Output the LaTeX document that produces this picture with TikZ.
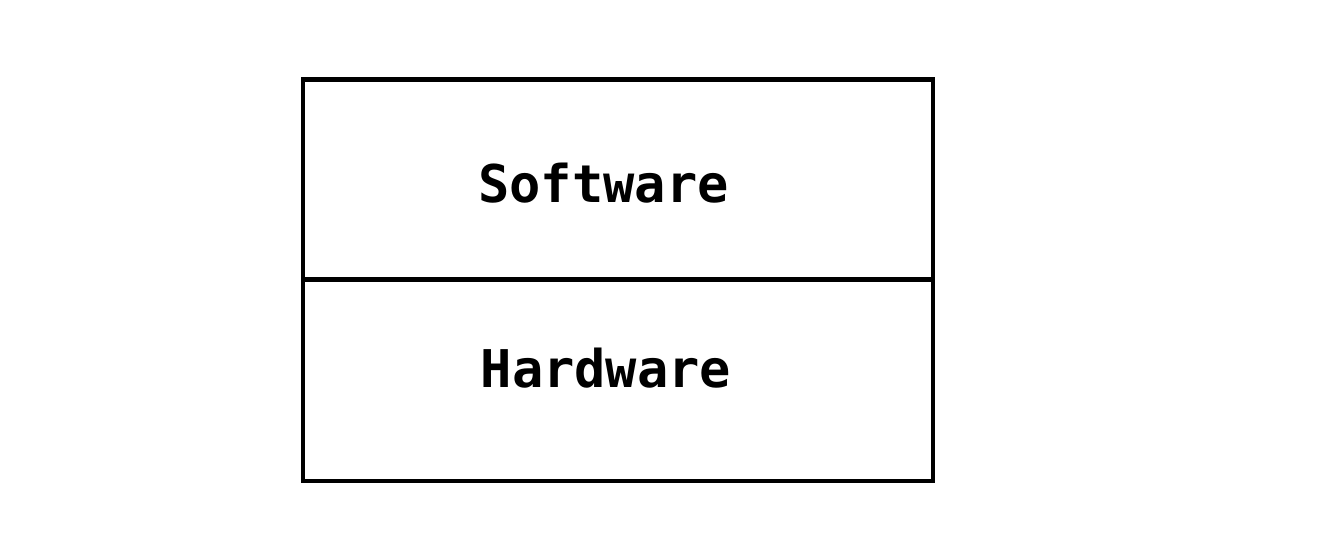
\documentclass[tikz,border=0pt]{standalone}
\usepackage{fontspec}
\newfontfamily\monofnt{DejaVu Sans Mono}
\begin{document}
\begin{tikzpicture}[x=1pt,y=-1pt,
  layerbox/.style={draw=black,line width=4.3pt,minimum width=630pt,minimum height=200pt,inner sep=0pt,outer sep=0pt,anchor=north west},
  layertext/.style={font=\monofnt\bfseries\fontsize{52}{60}\selectfont,anchor=base,inner sep=0pt}]
\useasboundingbox (0,0) rectangle (1337,544);
\node[layerbox] (sw) at (303,79.5) {};
\node[layerbox,minimum height=201.5pt] (hw) at (303,279.5) {};
\node[layertext] (swt) at (603.5,202) {Software};
\node[layertext] (hwt) at (606,387) {Hardware};
\end{tikzpicture}
\end{document}
